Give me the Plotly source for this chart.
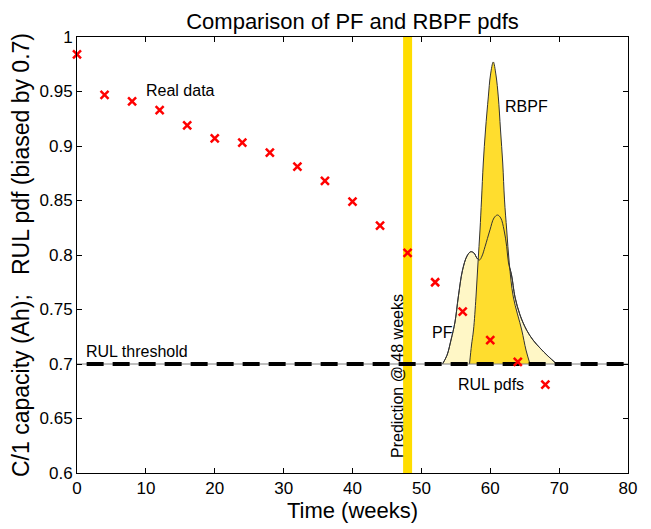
import plotly.graph_objects as go

# Real capacity data
weeks = [0, 4, 8, 12, 16, 20, 24, 28, 32, 36, 40, 44, 48, 52, 56, 60, 64, 68]
capacity = [0.984, 0.947, 0.941, 0.933, 0.919, 0.907, 0.903, 0.894, 0.881,
            0.868, 0.849, 0.827, 0.802, 0.775, 0.748, 0.722, 0.702, 0.681]

# PF RUL pdf outline (biased by 0.7)
pf_x = [53.07, 53.72, 54.30, 54.88, 55.36, 55.97, 56.62, 57.16, 57.64, 58.08,
        58.44, 58.80, 59.24, 59.96, 60.54, 61.05, 61.52, 62.00, 62.39, 62.65,
        63.09, 63.59, 64.32, 65.29, 66.21, 67.22, 68.38, 69.65]
pf_y = [0.700, 0.708, 0.722, 0.7385, 0.7615, 0.786, 0.799, 0.803, 0.8018, 0.797,
        0.7954, 0.799, 0.8076, 0.823, 0.834, 0.8367, 0.834, 0.823, 0.8076, 0.7927,
        0.7817, 0.7615, 0.745, 0.731, 0.722, 0.7147, 0.7073, 0.700]

# RBPF RUL pdf outline (biased by 0.7)
rbpf_x = [56.99, 57.28, 57.57, 57.93, 58.22, 58.51, 58.73, 58.99, 59.31, 59.72,
          60.03, 60.44, 60.83, 61.17, 61.49, 61.81, 62.07, 62.39, 62.76, 63.35,
          64.57, 65.19, 65.77]
rbpf_y = [0.700, 0.7174, 0.7312, 0.7615, 0.7927, 0.8229, 0.8505, 0.8844, 0.9147, 0.945,
          0.9651, 0.9771, 0.9651, 0.945, 0.9147, 0.8844, 0.8505, 0.8229, 0.7927, 0.7615,
          0.7312, 0.7128, 0.700]

threshold = 0.7
prediction_week = 48
x_range = [0, 80]
y_range = [0.6, 1.0]

FONT = "Arial, Liberation Sans, sans-serif"

fig = go.Figure()

# prediction line
fig.add_shape(type="line", x0=prediction_week, x1=prediction_week, y0=0, y1=1,
              xref="x", yref="paper", line=dict(color="#FFDD00", width=9), layer="below")

# PF pdf
fig.add_trace(go.Scatter(x=pf_x, y=pf_y, mode="lines", fill="toself",
                         fillcolor="#FFF7C6", line=dict(color="#333333", width=1, shape="spline"),
                         showlegend=False, hoverinfo="skip"))
# RBPF pdf
fig.add_trace(go.Scatter(x=rbpf_x, y=rbpf_y, mode="lines", fill="toself",
                         fillcolor="#FFDD2E", line=dict(color="#333333", width=1, shape="spline"),
                         showlegend=False, hoverinfo="skip"))
# PF outline over RBPF
fig.add_trace(go.Scatter(x=pf_x, y=pf_y, mode="lines",
                         line=dict(color="#333333", width=1, shape="spline"),
                         showlegend=False, hoverinfo="skip"))

# threshold thin line
fig.add_trace(go.Scatter(x=x_range, y=[threshold, threshold], mode="lines",
                         line=dict(color="#808080", width=1), showlegend=False, hoverinfo="skip"))
# threshold thick dashed
fig.add_trace(go.Scatter(x=[1.4, x_range[1]], y=[threshold, threshold], mode="lines",
                         line=dict(color="black", width=4, dash="17px,9px"),
                         showlegend=False, hoverinfo="skip"))

# real data
fig.add_trace(go.Scatter(x=weeks, y=capacity, mode="markers",
                         marker=dict(symbol="x-thin", size=8, color="#FF0000",
                                     line=dict(width=2.5, color="#FF0000")),
                         cliponaxis=False, showlegend=False))

ann_font = dict(family=FONT, size=16, color="black")
fig.add_annotation(x=9.7, y=0.951, text="Real data", showarrow=False, xanchor="left", font=ann_font)
fig.add_annotation(x=61.8, y=0.936, text="RBPF", showarrow=False, xanchor="left", font=ann_font)
fig.add_annotation(x=51.2, y=0.729, text="PF", showarrow=False, xanchor="left", font=ann_font)
fig.add_annotation(x=55.0, y=0.681, text="RUL pdfs", showarrow=False, xanchor="left", font=ann_font)
fig.add_annotation(x=1.0, y=0.7015, text="RUL threshold", showarrow=False, xanchor="left",
                   yanchor="bottom", font=ann_font)
fig.add_annotation(x=46.6, y=0.689, text="Prediction @ 48 weeks", showarrow=False, textangle=-90,
                   font=ann_font)

axis_common = dict(showgrid=False, zeroline=False, showline=True, linecolor="black", linewidth=1,
                   mirror="ticks", ticks="inside", ticklen=5, tickcolor="black",
                   tickfont=dict(family=FONT, size=17, color="black"))

fig.update_layout(
    width=651, height=529,
    margin=dict(l=69, r=31, t=29, b=64),
    paper_bgcolor="white", plot_bgcolor="white",
    title=dict(text="Comparison of PF and RBPF pdfs", xref="paper", x=0.5, xanchor="center",
               yref="container", y=0.99, yanchor="top",
               font=dict(family=FONT, size=22, color="black")),
    xaxis=dict(range=x_range, tickvals=list(range(0, 81, 10)),
               title=dict(text="Time (weeks)", font=dict(family=FONT, size=22, color="black"), standoff=3),
               **axis_common),
    yaxis=dict(range=y_range, tickvals=[0.6, 0.65, 0.7, 0.75, 0.8, 0.85, 0.9, 0.95, 1.0],
               ticktext=["0.6", "0.65", "0.7", "0.75", "0.8", "0.85", "0.9", "0.95", "1"],
               title=dict(text="C/1 capacity (Ah);\u00a0\u00a0\u00a0RUL pdf (biased by 0.7)",
                          font=dict(family=FONT, size=23, color="black"), standoff=4),
               **axis_common),
)

fig.write_html("out.html")
